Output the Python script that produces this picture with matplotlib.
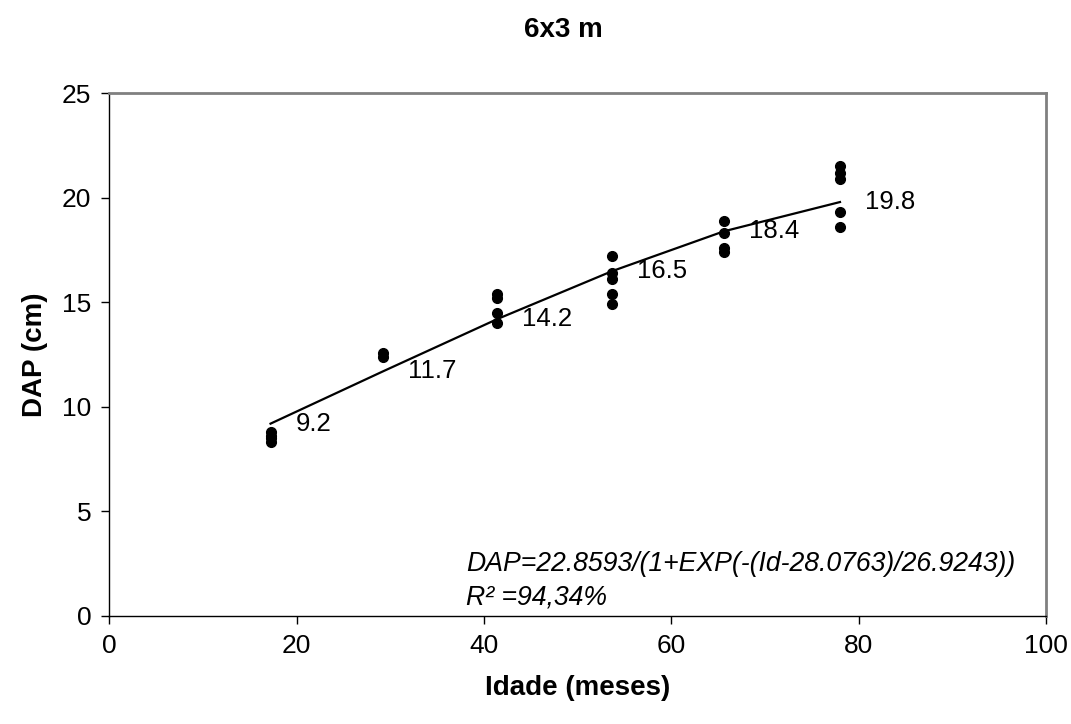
import matplotlib
matplotlib.use("Agg")
import matplotlib.pyplot as plt

plt.rcParams['font.family'] = ['Liberation Sans', 'DejaVu Sans']

# Observed data (age in months, DAP in cm)
ages_obs = [17.2] * 4 + [29.2] * 2 + [41.4] * 4 + [53.7] * 5 + [65.6] * 4 + [78.0] * 5
dap_obs = [8.8, 8.6, 8.5, 8.3,
           12.6, 12.4,
           15.4, 15.2, 14.5, 14.0,
           17.2, 16.4, 16.1, 15.4, 14.9,
           18.9, 18.3, 17.6, 17.4,
           21.5, 21.2, 20.9, 19.3, 18.6]

# Fitted values
ages_fit = [17.2, 29.2, 41.4, 53.7, 65.6, 78.0]
dap_fit = [9.2, 11.7, 14.2, 16.5, 18.4, 19.8]
fit_labels = ['9.2', '11.7', '14.2', '16.5', '18.4', '19.8']

x_ticks = [0, 20, 40, 60, 80, 100]
y_ticks = [0, 5, 10, 15, 20, 25]

fig = plt.figure(figsize=(10.71, 7.24), dpi=100)
ax = fig.add_axes([0.1022, 0.1492, 0.8745, 0.7219])

ax.plot(ages_fit, dap_fit, color='black', lw=1.6, zorder=2)
ax.plot(ages_obs, dap_obs, 'o', color='black', ms=7, zorder=3)

for x, y, t in zip(ages_fit, dap_fit, fit_labels):
    ax.annotate(t, (x, y), xytext=(18, 0), textcoords='offset points',
                ha='left', va='center', fontsize=18.5)

ax.set_xlim(0, 100)
ax.set_ylim(0, 25)
ax.set_xticks(x_ticks)
ax.set_yticks(y_ticks)
ax.tick_params(direction='out', length=6, width=1, labelsize=19, pad=7)

for s in ['left', 'bottom']:
    ax.spines[s].set_color('black')
    ax.spines[s].set_linewidth(1)
for s in ['top', 'right']:
    ax.spines[s].set_color('#808080')
    ax.spines[s].set_linewidth(2)

fig.text(563 / 1071, 1 - 30 / 724, '6x3 m', fontsize=20, fontweight='bold',
         ha='center', va='center')
ax.set_xlabel('Idade (meses)', fontsize=20, fontweight='bold', labelpad=12)
ax.set_ylabel('DAP (cm)', fontsize=20, fontweight='bold', labelpad=10)

ax.text(0.381, 0.099, 'DAP=22.8593/(1+EXP(-(Id-28.0763)/26.9243))',
        transform=ax.transAxes, fontsize=19.2, style='italic', va='center', ha='left')
ax.text(0.381, 0.036, 'R² =94,34%',
        transform=ax.transAxes, fontsize=19.2, style='italic', va='center', ha='left')

fig.savefig('out.png', dpi=100)
